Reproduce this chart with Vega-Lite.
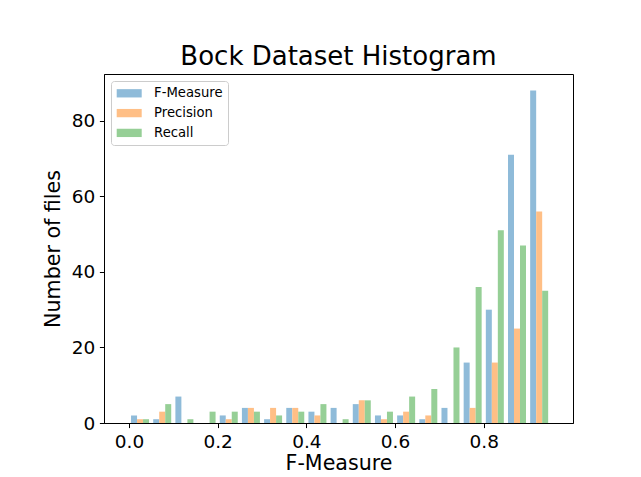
{
  "$schema": "https://vega.github.io/schema/vega-lite/v6.json",
  "width": 469,
  "height": 349,
  "autosize": {"type": "none"},
  "padding": {"left": 104, "top": 74, "right": 68, "bottom": 54},
  "background": "white",
  "title": {"text": "Bock Dataset Histogram", "fontSize": 26, "font": "DejaVu Sans", "fontWeight": "normal", "color": "black", "anchor": "middle", "baseline": "alphabetic", "offset": 9, "dy": 26},
  "data": {"values": [
    {"bin": 0.025, "series": "F-Measure", "count": 2}, {"bin": 0.025, "series": "Precision", "count": 1}, {"bin": 0.025, "series": "Recall", "count": 1},
    {"bin": 0.075, "series": "F-Measure", "count": 1}, {"bin": 0.075, "series": "Precision", "count": 3}, {"bin": 0.075, "series": "Recall", "count": 5},
    {"bin": 0.125, "series": "F-Measure", "count": 7}, {"bin": 0.125, "series": "Precision", "count": 0}, {"bin": 0.125, "series": "Recall", "count": 1},
    {"bin": 0.175, "series": "F-Measure", "count": 0}, {"bin": 0.175, "series": "Precision", "count": 0}, {"bin": 0.175, "series": "Recall", "count": 3},
    {"bin": 0.225, "series": "F-Measure", "count": 2}, {"bin": 0.225, "series": "Precision", "count": 1}, {"bin": 0.225, "series": "Recall", "count": 3},
    {"bin": 0.275, "series": "F-Measure", "count": 4}, {"bin": 0.275, "series": "Precision", "count": 4}, {"bin": 0.275, "series": "Recall", "count": 3},
    {"bin": 0.325, "series": "F-Measure", "count": 1}, {"bin": 0.325, "series": "Precision", "count": 4}, {"bin": 0.325, "series": "Recall", "count": 2},
    {"bin": 0.375, "series": "F-Measure", "count": 4}, {"bin": 0.375, "series": "Precision", "count": 4}, {"bin": 0.375, "series": "Recall", "count": 3},
    {"bin": 0.425, "series": "F-Measure", "count": 3}, {"bin": 0.425, "series": "Precision", "count": 2}, {"bin": 0.425, "series": "Recall", "count": 5},
    {"bin": 0.475, "series": "F-Measure", "count": 4}, {"bin": 0.475, "series": "Precision", "count": 0}, {"bin": 0.475, "series": "Recall", "count": 1},
    {"bin": 0.525, "series": "F-Measure", "count": 5}, {"bin": 0.525, "series": "Precision", "count": 6}, {"bin": 0.525, "series": "Recall", "count": 6},
    {"bin": 0.575, "series": "F-Measure", "count": 2}, {"bin": 0.575, "series": "Precision", "count": 1}, {"bin": 0.575, "series": "Recall", "count": 3},
    {"bin": 0.625, "series": "F-Measure", "count": 2}, {"bin": 0.625, "series": "Precision", "count": 3}, {"bin": 0.625, "series": "Recall", "count": 7},
    {"bin": 0.675, "series": "F-Measure", "count": 1}, {"bin": 0.675, "series": "Precision", "count": 2}, {"bin": 0.675, "series": "Recall", "count": 9},
    {"bin": 0.725, "series": "F-Measure", "count": 4}, {"bin": 0.725, "series": "Precision", "count": 0}, {"bin": 0.725, "series": "Recall", "count": 20},
    {"bin": 0.775, "series": "F-Measure", "count": 16}, {"bin": 0.775, "series": "Precision", "count": 4}, {"bin": 0.775, "series": "Recall", "count": 36},
    {"bin": 0.825, "series": "F-Measure", "count": 30}, {"bin": 0.825, "series": "Precision", "count": 16}, {"bin": 0.825, "series": "Recall", "count": 51},
    {"bin": 0.875, "series": "F-Measure", "count": 71}, {"bin": 0.875, "series": "Precision", "count": 25}, {"bin": 0.875, "series": "Recall", "count": 47},
    {"bin": 0.925, "series": "F-Measure", "count": 88}, {"bin": 0.925, "series": "Precision", "count": 56}, {"bin": 0.925, "series": "Recall", "count": 35}
  ]},
  "encoding": {
    "x": {"field": "bin", "type": "quantitative", "scale": {"domain": [-0.045, 0.99], "nice": false, "zero": false},
          "axis": {"title": "F-Measure", "values": [0, 0.2, 0.4, 0.6, 0.8], "format": ".1f", "titlePadding": 3}},
    "y": {"field": "count", "type": "quantitative", "scale": {"domain": [0, 92.4], "nice": false},
          "axis": {"title": "Number of files", "values": [0, 20, 40, 60, 80], "titlePadding": 8}},
    "color": {"field": "series", "type": "nominal",
              "scale": {"domain": ["F-Measure", "Precision", "Recall"], "range": ["#8fbbd9", "#ffbf86", "#96cf96"]},
              "legend": {"title": null, "orient": "top-left", "offset": 6.7, "padding": 5.3,
                         "symbolType": "M-1,-0.629L2.788,-0.629L2.788,0.629L-1,0.629Z", "symbolSize": 174.24, "symbolStrokeWidth": 0, "symbolOpacity": 1,
                         "labelFont": "DejaVu Sans", "labelFontSize": 13.2, "labelColor": "black", "labelOffset": 23.8, "rowPadding": 5.8,
                         "fillColor": "rgba(255,255,255,0.8)", "strokeColor": "#cccccc", "cornerRadius": 3}}
  },
  "layer": [
    {"transform": [{"filter": "datum.series === 'F-Measure'"}], "mark": {"type": "bar", "width": 6, "xOffset": -6}},
    {"transform": [{"filter": "datum.series === 'Precision'"}], "mark": {"type": "bar", "width": 6, "xOffset": 0}},
    {"transform": [{"filter": "datum.series === 'Recall'"}], "mark": {"type": "bar", "width": 6, "xOffset": 6}}
  ],
  "config": {
    "view": {"stroke": "black", "strokeWidth": 1},
    "axis": {"grid": false, "labelFont": "DejaVu Sans", "titleFont": "DejaVu Sans", "labelFontSize": 18.5, "titleFontSize": 20.6,
             "titleFontWeight": "normal", "labelColor": "black", "titleColor": "black", "tickColor": "black", "domainColor": "black",
             "tickSize": 4.6, "tickWidth": 1, "labelPadding": 4.6, "labelFlush": false, "labelOverlap": false}
  }
}
